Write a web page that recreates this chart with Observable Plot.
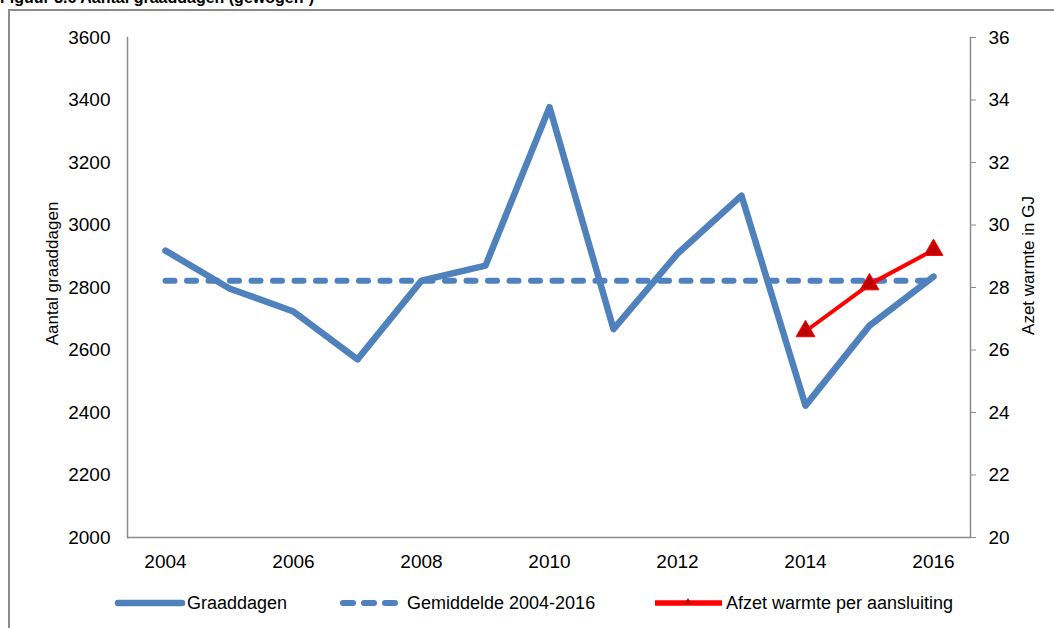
<!DOCTYPE html>
<html>
<head>
<meta charset="utf-8">
<script src="https://cdn.jsdelivr.net/npm/d3@7"></script>
<script src="https://cdn.jsdelivr.net/npm/@observablehq/plot@0.6"></script>
<style>
  html, body { margin: 0; padding: 0; background: #fff; }
  body { width: 1054px; height: 628px; position: relative; overflow: hidden; font-family: "Liberation Sans", Arial, sans-serif; }
  #title { position: absolute; left: 0px; top: -11px; font-weight: bold; font-size: 16px; color: #000; white-space: nowrap; }
  #border { position: absolute; left: 8px; top: 9px; width: 1060px; height: 640px; border: 2px solid #8c8c8c; box-sizing: border-box; }
  #chart { position: absolute; left: 0; top: 0; }
  #legend { position: absolute; left: 0; top: 589px; width: 1054px; height: 28px; font-size: 18px; color: #000; }
  .ls { position: absolute; top: 0; }
  .lt { position: absolute; top: 0; line-height: 28px; white-space: nowrap; }
</style>
</head>
<body>
<div id="title">Figuur 3.6 Aantal graaddagen (gewogen¹)</div>
<div id="border"></div>
<div id="chart"></div>
<div id="legend"></div>
<script>
// ---- data ----
const years = [2004, 2005, 2006, 2007, 2008, 2009, 2010, 2011, 2012, 2013, 2014, 2015, 2016];
const graaddagen = [2918, 2797, 2723, 2570, 2822, 2870, 3377, 2667, 2908, 3094, 2422, 2678, 2835];
const gemiddelde = 2822;
const afzetYears = [2014, 2015, 2016];
const afzetWarmte = [26.6, 28.1, 29.2];
const leftTicks = [2000, 2200, 2400, 2600, 2800, 3000, 3200, 3400, 3600];
const rightTicks = [20, 22, 24, 26, 28, 30, 32, 34, 36];
const xTickYears = [2004, 2006, 2008, 2010, 2012, 2014, 2016];
const seriesNames = ["Graaddagen", "Gemiddelde 2004-2016", "Afzet warmte per aansluiting"];

// ---- tables ----
const blue = "#4F81BD";
const mainData = years.map((y, i) => ({year: y, value: graaddagen[i]}));
const avgData = years.map(y => ({year: y, value: gemiddelde}));
// right axis (GJ) mapped onto the left scale
const r2l = d3.scaleLinear([rightTicks[0], rightTicks[rightTicks.length - 1]], [leftTicks[0], leftTicks[leftTicks.length - 1]]);
const redData = afzetYears.map((y, i) => ({year: y, value: r2l(afzetWarmte[i])}));

const W = 1054, H = 580;
const chart = Plot.plot({
  width: W,
  height: H,
  marginLeft: 127,
  marginRight: 84,
  marginTop: 37,
  marginBottom: 43,
  style: {fontFamily: "'Liberation Sans', Arial, sans-serif", fontSize: "19px", color: "#000", background: "transparent", overflow: "visible"},
  x: {type: "point", domain: years, padding: 0.5},
  y: {domain: [leftTicks[0], leftTicks[leftTicks.length - 1]]},
  marks: [
    Plot.frame({anchor: "left", stroke: "#8c8c8c", strokeWidth: 1.5}),
    Plot.frame({anchor: "right", stroke: "#8c8c8c", strokeWidth: 1.5}),
    Plot.ruleY([leftTicks[0]], {stroke: "#8c8c8c", strokeWidth: 1.5}),
    Plot.axisY({ticks: leftTicks, tickSize: 0, tickPadding: 17, tickFormat: d => String(d), label: null, fontSize: 19}),
    Plot.axisY({anchor: "right", ticks: rightTicks.map(r2l), tickSize: 5, tickPadding: 13, stroke: "#8c8c8c", tickFormat: d => String(Math.round(r2l.invert(d))), label: null, fontSize: 19}),
    Plot.axisX({ticks: xTickYears, tickSize: 0, tickPadding: 17, tickFormat: d => String(d), label: null, fontSize: 19}),
    Plot.text(["Aantal graaddagen"], {frameAnchor: "left", textAnchor: "middle", dx: -75, dy: -14, rotate: -90, fontSize: 17, fill: "#000"}),
    Plot.text(["Azet warmte in GJ"], {frameAnchor: "right", textAnchor: "middle", dx: 58, dy: -22, rotate: -90, fontSize: 17, fill: "#000"}),
    Plot.line(avgData, {x: "year", y: "value", stroke: blue, strokeWidth: 6, strokeDasharray: "9,12.5", strokeLinecap: "round"}),
    Plot.line(mainData, {x: "year", y: "value", stroke: blue, strokeWidth: 6.5, strokeLinejoin: "round", strokeLinecap: "round"}),
    Plot.line(redData, {x: "year", y: "value", stroke: "#FF0000", strokeWidth: 4}),
    Plot.dot(redData, {x: "year", y: "value", symbol: "triangle", r: 7, fill: "#C00000", stroke: "#FF0000", strokeWidth: 1})
  ]
});
document.getElementById("chart").appendChild(chart);

// ---- legend ----
const legend = document.getElementById("legend");
const items = [
  {name: seriesNames[0], sx: 114, tx: 187, svg: `<svg width="72" height="28"><line x1="4" y1="14" x2="68" y2="14" stroke="${blue}" stroke-width="6.5" stroke-linecap="round"/></svg>`},
  {name: seriesNames[1], sx: 337, tx: 407, svg: `<svg width="64" height="28"><line x1="6" y1="14" x2="60" y2="14" stroke="${blue}" stroke-width="6" stroke-dasharray="10,11" stroke-linecap="round"/></svg>`},
  {name: seriesNames[2], sx: 652, tx: 726, svg: `<svg width="72" height="28"><line x1="3" y1="14" x2="70" y2="14" stroke="#FF0000" stroke-width="5.5"/><path d="M36,9 L39.5,15 L32.5,15 Z" fill="#C00000"/></svg>`}
];
for (const it of items) {
  const s = document.createElement("div");
  s.className = "ls";
  s.style.left = it.sx + "px";
  s.innerHTML = it.svg;
  legend.appendChild(s);
  const t = document.createElement("div");
  t.className = "lt";
  t.style.left = it.tx + "px";
  t.textContent = it.name;
  legend.appendChild(t);
}
</script>
</body>
</html>
